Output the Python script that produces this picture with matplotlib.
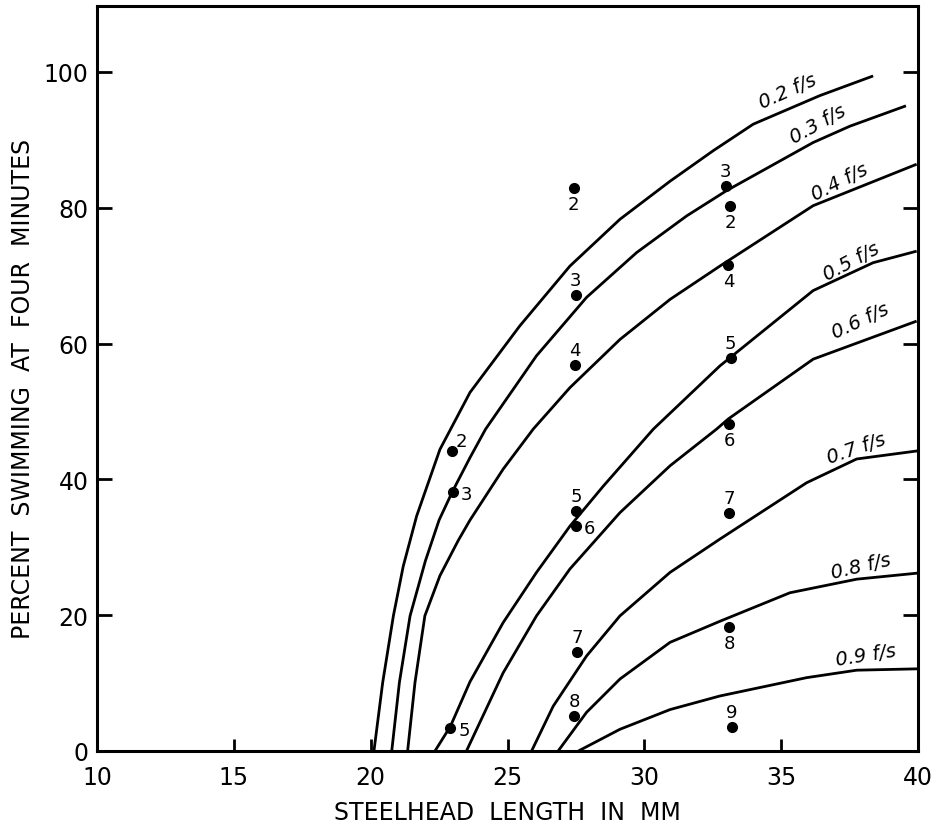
import matplotlib
matplotlib.use("Agg")
import matplotlib.pyplot as plt

plt.rcParams['font.family'] = ['DejaVu Sans']

# ---- curve data (length mm, percent) ----
c02_x = [20.12, 20.44, 20.83, 21.19, 21.68, 22.53, 23.63, 25.45, 27.28, 29.11, 30.94, 32.52, 33.98, 36.41, 38.36]
c02_y = [0.0, 10.1, 19.9, 27.2, 34.6, 44.4, 52.8, 62.6, 71.4, 78.3, 83.9, 88.4, 92.3, 96.5, 99.4]

c03_x = [20.77, 21.05, 21.44, 22.0, 22.5, 23.0, 23.63, 24.2, 26.06, 27.89, 29.72, 31.55, 33.0, 36.17, 37.51, 39.56]
c03_y = [0.0, 10.1, 19.9, 28.0, 34.0, 38.3, 43.2, 47.4, 58.2, 66.8, 73.4, 78.8, 82.5, 89.6, 92.0, 95.0]

c04_x = [21.35, 21.62, 21.98, 22.53, 23.2, 23.63, 24.84, 25.94, 27.28, 29.11, 30.94, 32.76, 36.17, 39.95]
c04_y = [0.0, 10.1, 19.9, 25.8, 31.0, 34.0, 41.5, 47.4, 53.5, 60.6, 66.5, 71.4, 80.3, 86.4]

c05_x = [22.35, 22.91, 23.63, 24.84, 26.06, 27.28, 28.50, 30.33, 32.76, 36.17, 38.36, 39.95]
c05_y = [0.0, 3.6, 10.2, 18.9, 26.3, 33.1, 39.0, 47.4, 56.7, 67.8, 71.9, 73.6]

c06_x = [23.50, 24.84, 26.06, 27.28, 29.11, 30.94, 32.64, 33.07, 36.17, 39.95]
c06_y = [0.0, 11.5, 19.9, 26.8, 35.1, 42.0, 47.4, 48.9, 57.7, 63.3]

c07_x = [25.88, 26.67, 27.89, 29.11, 30.94, 32.76, 35.93, 37.76, 40.0]
c07_y = [0.0, 6.6, 14.0, 19.9, 26.3, 31.2, 39.5, 43.0, 44.2]

c08_x = [26.85, 27.89, 29.11, 30.94, 32.76, 35.32, 37.76, 40.0]
c08_y = [0.0, 5.7, 10.6, 16.0, 19.1, 23.3, 25.3, 26.2]

c09_x = [27.59, 29.11, 30.94, 32.76, 35.93, 37.76, 40.0]
c09_y = [0.0, 3.2, 6.1, 8.1, 10.8, 11.9, 12.1]

curve_labels = ["0.2 f/s", "0.3 f/s", "0.4 f/s", "0.5 f/s", "0.6 f/s", "0.7 f/s", "0.8 f/s", "0.9 f/s"]
label_x = [35.25, 36.34, 37.15, 37.58, 37.90, 37.73, 37.90, 38.10]
label_y = [97.2, 92.4, 83.9, 72.1, 63.4, 44.6, 27.3, 14.2]
label_rot = [24, 29, 27, 28, 25, 19, 13, 9]

# ---- observed points ----
pt_x = [22.98, 23.00, 22.91, 27.42, 27.50, 27.45, 27.52, 27.49, 27.55, 27.44,
        32.98, 33.13, 33.07, 33.16, 33.11, 33.11, 33.10, 33.20]
pt_y = [44.2, 38.1, 3.4, 82.9, 67.2, 56.8, 35.3, 33.2, 14.6, 5.1,
        83.2, 80.2, 71.6, 57.8, 48.1, 35.0, 18.2, 3.5]
pt_lbl = ["2", "3", "5", "2", "3", "4", "5", "6", "7", "8",
          "3", "2", "4", "5", "6", "7", "8", "9"]
pt_pos = ["ur", "r", "r", "b", "a", "a", "a", "r", "a", "a",
          "a", "b", "b", "a", "b", "a", "b", "a"]

x_ticks = [10, 15, 20, 25, 30, 35, 40]
y_ticks = [0, 20, 40, 60, 80, 100]

fig = plt.figure(figsize=(9.38, 8.29), dpi=100)
ax = fig.add_axes([97/938, 77/829, 821/938, 745/829])
ax.set_xlim(10, 40)
ax.set_ylim(0, 109.7)

curves = [(c02_x, c02_y), (c03_x, c03_y), (c04_x, c04_y), (c05_x, c05_y),
          (c06_x, c06_y), (c07_x, c07_y), (c08_x, c08_y), (c09_x, c09_y)]
for cx, cy in curves:
    ax.plot(cx, cy, color='black', lw=2.0, solid_joinstyle='round',
            solid_capstyle='butt', clip_on=False)

for lbl, lx, ly, rot in zip(curve_labels, label_x, label_y, label_rot):
    ax.text(lx, ly, lbl, rotation=rot, rotation_mode='anchor', ha='center', va='center',
            fontsize=14, style='italic', color='black')

ax.plot(pt_x, pt_y, 'o', color='black', markersize=7, zorder=5)
offsets = {"a": (0, 15), "b": (0, -16), "r": (14, -2), "ur": (9, 10)}
for x, y, t, p in zip(pt_x, pt_y, pt_lbl, pt_pos):
    dx, dy = offsets[p]
    ax.annotate(t, (x, y), xytext=(dx, dy), textcoords='offset pixels',
                ha='center', va='center', fontsize=13)

ax.set_xticks(x_ticks)
ax.set_yticks(y_ticks)
ax.tick_params(axis='both', which='both', direction='in', width=2, colors='black', labelsize=17)
ax.tick_params(axis='y', length=11, right=True, pad=6)
ax.tick_params(axis='x', length=9, pad=10)

for s in ax.spines.values():
    s.set_linewidth(2.2)

ax.set_xlabel("STEELHEAD  LENGTH  IN  MM", fontsize=17)
ax.xaxis.set_label_coords(0.5, -0.066)
ax.set_ylabel("PERCENT  SWIMMING  AT  FOUR  MINUTES", fontsize=17)
ax.yaxis.set_label_coords(-0.075, 0.487)

fig.savefig("out.png", dpi=100)
